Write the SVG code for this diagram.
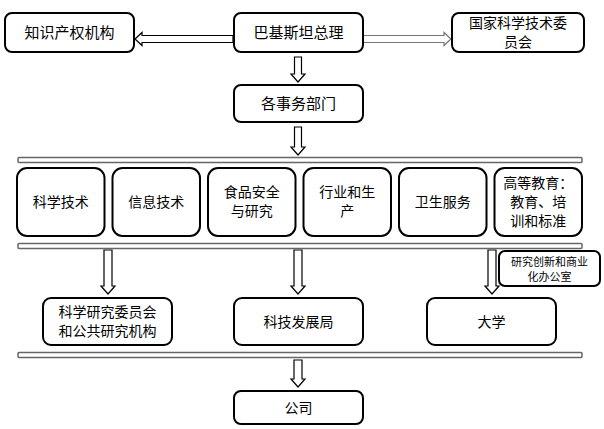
<svg xmlns="http://www.w3.org/2000/svg" width="604" height="429" viewBox="0 0 604 429">
<style>
.box{fill:#fff;stroke:#000;stroke-width:2}
.bar{fill:#fff;stroke:#666;stroke-width:1.5}
.arr{fill:#fff;stroke:#000;stroke-width:1.2}
.arrg{fill:#fff;stroke:#777;stroke-width:1.2}
text{font-family:"Noto Sans CJK SC","Liberation Sans",sans-serif;font-size:14px;fill:#000;text-anchor:middle}
.sm{font-size:11px}
</style>
<rect width="604" height="429" fill="#fff"/>
<g id="connectors">
<path class="arr" d="M233,35.5 H142 V32.5 L135,39 L142,45.5 V42.5 H233 Z"/>
<path class="arrg" d="M363,35.5 H444 V32.5 L451,39 L444,45.5 V42.5 H363 Z"/>
<path class="arr" d="M294.5,57 H301.5 V74 H305 L298,82 L291,74 H294.5 Z"/>
<path class="arr" d="M294.5,127 H301.5 V147 H305 L298,155 L291,147 H294.5 Z"/>
<path class="arr" d="M104,250 H112 V286 H115 L108,294 L101,286 H104 Z"/>
<path class="arr" d="M294,250 H302 V286 H305 L298,294 L291,286 H294 Z"/>
<path class="arr" d="M488,250 H496 V286 H499 L492,294 L485,286 H488 Z"/>
<path class="arr" d="M294,360 H302 V379 H305 L298,387 L291,379 H294 Z"/>
</g>
<g id="bars">
<rect class="bar" x="18" y="157.5" width="564" height="5" rx="1"/>
<rect class="bar" x="18" y="243.5" width="564" height="5" rx="1"/>
<rect class="bar" x="18" y="352.5" width="564" height="5" rx="1"/>
</g>
<g id="n1"><rect class="box" x="5" y="13" width="129" height="39" rx="7"/><text x="69.5" y="37.5" style="font-size:15px">知识产权机构</text></g>
<g id="n2"><rect class="box" x="234" y="13" width="129" height="39" rx="7"/><text x="298.5" y="37.5" style="font-size:15px">巴基斯坦总理</text></g>
<g id="n3"><rect class="box" x="452" y="13" width="132" height="39" rx="7"/><text x="518" y="28">国家科学技术委</text><text x="518" y="47">员会</text></g>
<g id="n4"><rect class="box" x="234" y="85" width="129" height="37" rx="7"/><text x="298.5" y="108.5" style="font-size:15px">各事务部门</text></g>
<g id="n5"><rect class="box" x="17" y="168" width="87.5" height="68" rx="10"/><text x="60.75" y="207">科学技术</text></g>
<g id="n6"><rect class="box" x="112.5" y="168" width="87.5" height="68" rx="10"/><text x="156.25" y="207">信息技术</text></g>
<g id="n7"><rect class="box" x="208" y="168" width="87.5" height="68" rx="10"/><text x="251.75" y="197">食品安全</text><text x="251.75" y="216">与研究</text></g>
<g id="n8"><rect class="box" x="303.5" y="168" width="87.5" height="68" rx="10"/><text x="347.25" y="197">行业和生</text><text x="347.25" y="216">产</text></g>
<g id="n9"><rect class="box" x="399" y="168" width="87.5" height="68" rx="10"/><text x="442.75" y="207">卫生服务</text></g>
<g id="n10"><rect class="box" x="494.5" y="168" width="87.5" height="68" rx="10"/><text x="538.25" y="188">高等教育：</text><text x="538.25" y="207">教育、培</text><text x="538.25" y="226">训和标准</text></g>
<g id="n11"><rect class="box" x="499" y="251" width="101" height="35" rx="6"/><text class="sm" x="549.5" y="266">研究创新和商业</text><text class="sm" x="549.5" y="281">化办公室</text></g>
<g id="n12"><rect class="box" x="43" y="298" width="129" height="47" rx="8"/><text x="107.5" y="316.5">科学研究委员会</text><text x="107.5" y="335.5">和公共研究机构</text></g>
<g id="n13"><rect class="box" x="234" y="298" width="129" height="47" rx="8"/><text x="298.5" y="327">科技发展局</text></g>
<g id="n14"><rect class="box" x="427" y="298" width="129" height="47" rx="8"/><text x="491.5" y="327">大学</text></g>
<g id="n15"><rect class="box" x="234" y="391" width="129" height="33" rx="7"/><text x="298.5" y="412.5">公司</text></g>
</svg>
